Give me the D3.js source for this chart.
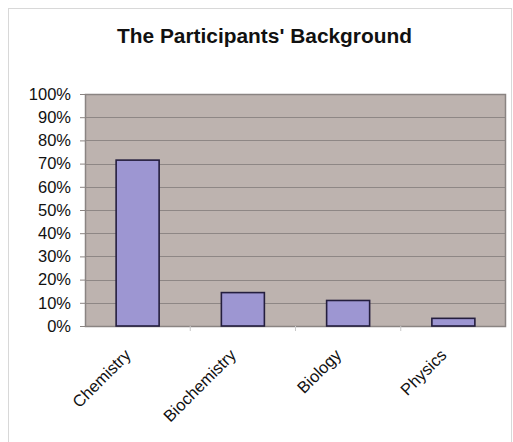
<!DOCTYPE html>
<html>
<head>
<meta charset="utf-8">
<script src="https://cdn.jsdelivr.net/npm/d3@7"></script>
<style>
  body { margin: 0; background: #fff; }
  svg text { font-family: Arial, "Liberation Sans", sans-serif; fill: #111; }
</style>
</head>
<body>
<div id="chart"></div>
<script>
var categories = ["Chemistry", "Biochemistry", "Biology", "Physics"];
var values = [0.715, 0.144, 0.11, 0.033];
var yTicks = [0, 0.1, 0.2, 0.3, 0.4, 0.5, 0.6, 0.7, 0.8, 0.9, 1.0];

var W = 513, H = 442;
var margin = {top: 94, right: 7, bottom: 116, left: 85},
    width = W - margin.left - margin.right,
    height = H - margin.top - margin.bottom;

var root = d3.select("#chart")
  .append("svg")
    .attr("width", W)
    .attr("height", H);

// outer frame
root.append("rect")
  .attr("x", 8.5).attr("y", 8.5)
  .attr("width", 503).attr("height", 440)
  .attr("fill", "none")
  .attr("stroke", "#d8d8d8");

root.append("text")
  .attr("x", 117)
  .attr("y", 43)
  .attr("textLength", 295)
  .attr("lengthAdjust", "spacingAndGlyphs")
  .style("font-size", "19.5px")
  .style("font-weight", "bold")
  .text("The Participants' Background");

var svg = root.append("g")
  .attr("transform", "translate(" + margin.left + "," + margin.top + ")");

var x = d3.scaleBand()
  .domain(categories)
  .range([0, width]);

var y = d3.scaleLinear()
  .domain([0, 1])
  .range([height, 0]);

// plot background
svg.append("rect")
  .attr("width", width)
  .attr("height", height)
  .attr("fill", "#bdb3af");

// gridlines
svg.append("g")
  .selectAll("line")
  .data(yTicks.slice(1, -1))
  .enter()
  .append("line")
    .attr("x1", 0)
    .attr("x2", width)
    .attr("y1", function(d) { return Math.round(y(d)) + 0.5; })
    .attr("y2", function(d) { return Math.round(y(d)) + 0.5; })
    .attr("stroke", "#8e8785")
    .attr("stroke-width", 1.2);

svg.append("rect")
  .attr("x", 0.5).attr("y", 0.5)
  .attr("width", width - 1)
  .attr("height", height)
  .attr("fill", "none")
  .attr("stroke", "#8a8482")
  .attr("stroke-width", 1.5);

// bars
var bw = 43;
svg.selectAll("mybar")
  .data(values)
  .enter()
  .append("rect")
    .attr("x", function(d, i) { return x(categories[i]) + (x.bandwidth() - bw) / 2; })
    .attr("y", function(d) { return y(d); })
    .attr("width", bw)
    .attr("height", function(d) { return height - y(d); })
    .attr("fill", "#9d96d2")
    .attr("stroke", "#241e3e")
    .attr("stroke-width", 1.6);

// y axis
var yAxis = svg.append("g")
  .call(d3.axisLeft(y).tickValues(yTicks).tickFormat(d3.format(".0%")).tickSize(5).tickPadding(9));
yAxis.select(".domain").attr("stroke", "#8a8482");
yAxis.selectAll(".tick line").attr("stroke", "#8a8482");
yAxis.selectAll("text")
  .style("font-size", "16.5px")
  .style("font-family", "Arial, 'Liberation Sans', sans-serif")
  .attr("fill", "#111");

// x axis: ticks at category boundaries
var xg = svg.append("g")
  .attr("transform", "translate(0," + height + ")");
xg.selectAll("line")
  .data(categories.slice(1))
  .enter()
  .append("line")
    .attr("x1", function(d) { return x(d); })
    .attr("x2", function(d) { return x(d); })
    .attr("y1", 0)
    .attr("y2", 5)
    .attr("stroke", "#c8c8c8");

xg.selectAll("text")
  .data(categories)
  .enter()
  .append("text")
    .attr("transform", function(d) {
      return "translate(" + (x(d) + x.bandwidth() / 2 - 14) + ",22)rotate(-45)";
    })
    .attr("text-anchor", "end")
    .attr("dy", "0.7em")
    .style("font-size", "16.5px")
    .text(function(d) { return d; });
</script>
</body>
</html>
